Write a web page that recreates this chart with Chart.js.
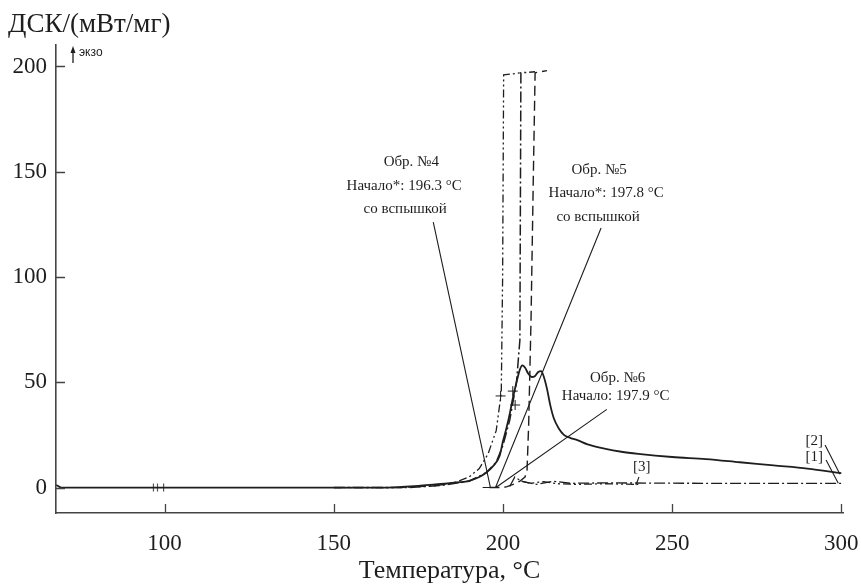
<!DOCTYPE html>
<html lang="ru">
<head>
<meta charset="UTF-8">
<title>ДСК</title>
<script src="https://cdn.jsdelivr.net/npm/chart.js"></script>
<style>
  html, body { margin: 0; padding: 0; background: #fff; }
  #wrap { width: 861px; height: 585px; position: relative; }
</style>
</head>
<body>
<div id="wrap"><canvas id="dsc"></canvas></div>
<script>
// ---- data ----
const xTicks = [100, 150, 200, 250, 300];
const yTicks = [0, 50, 100, 150, 200];

// solid curve (no flash)
const tSolid = [68, 69.5, 120, 165, 170, 175, 180, 185, 190, 193, 195, 197, 199, 200, 201, 202, 203, 204, 205, 205.7, 206.5, 207.5, 208.5, 209.5, 210.5, 211.3, 212, 213, 214, 215, 216.5, 218, 220, 222, 225, 230, 235, 240, 250, 260, 270, 280, 290, 300];
const vSolid = [1.2, 0, 0, 0, 0.3, 0.8, 1.5, 2.2, 3.2, 5, 7, 10, 15, 22, 28, 35, 43, 50, 56, 58, 57, 54, 52.5, 53, 55, 55.3, 53, 47, 39, 33, 28, 25, 23.5, 22.5, 20.5, 18.5, 17, 16, 14.5, 13.5, 12, 10.5, 9, 6.8];

// dash-dot-dot curve (flash at ~200 °C)
const tFlashA = [150, 170, 180, 186, 190, 193, 195.6, 198, 199.5, 199.9, 200.2, 203, 205];
const vFlashA = [0, 0, 0.8, 2.5, 5, 9, 16, 27, 45, 100, 196, 196.5, 197];
const tAfterA = [205.5, 208, 212, 216, 222, 230, 240];
const vAfterA = [3, 2, 2.8, 1.8, 1.5, 1.8, 1.5];

// long-dash-dot curve (flash at ~205 °C)
const tFlashB = [150, 172, 182, 190, 195, 198, 200, 202, 204, 205, 205.3, 209.5];
const vFlashB = [0, 0, 1, 3, 7, 12, 20, 32, 50, 70, 197, 197.5];
const tAfterB = [202, 203.5, 205.5, 207, 210, 215, 220, 230, 260, 300];
const vAfterB = [0.5, 5, 3, 2.5, 1.5, 3, 2, 2.2, 2, 2];

// dashed curve (flash at ~209 °C)
const tFlashC = [196, 200, 201.2, 203, 205, 206.5, 207.1, 207.6, 208.3, 209, 209.5, 213];
const vFlashC = [0, 0, 0.4, 1.5, 3, 5, 7.5, 30, 80, 150, 197, 198];

// small marks on the curves
const tCross = [199.3, 202.9, 203.6];
const vCross = [43.5, 45.8, 39.2];
const tBars = [96.7, 97.9, 99.7];
const vBars = [0, 0, 0];

// ---- annotations (data units) ----
const notes = [
  { text: 'Обр. №4', x: 172.9, y: 154.6 },
  { text: 'Начало*: 196.3 °C', x: 170.8, y: 143.2 },
  { text: 'со вспышкой', x: 171.1, y: 132.3 },
  { text: 'Обр. №5', x: 228.4, y: 150.8 },
  { text: 'Начало*: 197.8 °C', x: 230.5, y: 139.9 },
  { text: 'со вспышкой', x: 228.1, y: 128.5 },
  { text: 'Обр. №6', x: 233.9, y: 52.0 },
  { text: 'Начало: 197.9 °C', x: 233.3, y: 43.5 },
  { text: '[3]', x: 241.0, y: 9.7 },
  { text: '[2]', x: 292.0, y: 22.1 },
  { text: '[1]', x: 292.0, y: 14.5 }
];
const leaders = [
  [179.4, 126.1, 196.3, 0],
  [229.0, 123.3, 197.8, 0],
  [230.7, 37.1, 197.9, 0],
  [194.0, 0, 198.0, 0],
  [240.2, 5.0, 239.3, 1.2],
  [295.2, 20.2, 299.6, 6.3],
  [295.5, 13.1, 299.1, 2.0]
];

function pts(t, v) { return t.map((x, i) => ({ x: x, y: v[i] })); }

const ink = '#1e1e1e';
const serif = '"Liberation Serif", "DejaVu Serif", serif';

const extras = {
  id: 'extras',
  afterDraw(chart) {
    const ctx = chart.ctx;
    const xs = chart.scales.x, ys = chart.scales.y;
    const area = chart.chartArea;
    ctx.save();
    // inward ticks
    ctx.strokeStyle = '#444';
    ctx.lineWidth = 1.3;
    ctx.beginPath();
    yTicks.forEach(v => {
      const y = Math.round(ys.getPixelForValue(v)) + 0.5;
      ctx.moveTo(area.left, y); ctx.lineTo(area.left + 9, y);
    });
    xTicks.forEach(v => {
      const x = Math.round(xs.getPixelForValue(v)) + 0.5;
      ctx.moveTo(x, area.bottom); ctx.lineTo(x, area.bottom - 9);
    });
    ctx.stroke();

    // leader lines
    ctx.strokeStyle = ink;
    ctx.lineWidth = 1.1;
    ctx.beginPath();
    leaders.forEach(l => {
      ctx.moveTo(xs.getPixelForValue(l[0]), ys.getPixelForValue(l[1]));
      ctx.lineTo(xs.getPixelForValue(l[2]), ys.getPixelForValue(l[3]));
    });
    ctx.stroke();

    // annotation text
    ctx.fillStyle = ink;
    ctx.font = '15px ' + serif;
    ctx.textAlign = 'center';
    ctx.textBaseline = 'middle';
    notes.forEach(n => {
      ctx.fillText(n.text, xs.getPixelForValue(n.x), ys.getPixelForValue(n.y));
    });

    // axis titles
    ctx.font = '27px ' + serif;
    ctx.textAlign = 'left';
    ctx.fillText('ДСК/(мВт/мг)', 8, 25);
    ctx.font = '26px ' + serif;
    ctx.textAlign = 'center';
    ctx.fillText('Температура, °C', (area.left + area.right) / 2, 571);

    // exo arrow
    ctx.lineWidth = 1.3;
    ctx.beginPath();
    ctx.moveTo(73, 63); ctx.lineTo(73, 50);
    ctx.stroke();
    ctx.beginPath();
    ctx.moveTo(73, 46); ctx.lineTo(70.5, 53); ctx.lineTo(75.5, 53); ctx.closePath();
    ctx.fill();
    ctx.font = '12px "Liberation Sans", Arial, sans-serif';
    ctx.textAlign = 'left';
    ctx.fillText('экзо', 79, 53);
    ctx.restore();
  }
};

const lineStyle = (dash, w) => ({
  borderColor: ink, borderWidth: w, borderDash: dash,
  pointRadius: 0, fill: false, tension: 0
});

new Chart(document.getElementById('dsc'), {
  type: 'line',
  data: {
    datasets: [
      Object.assign({ label: 'solid', data: pts(tSolid, vSolid), cubicInterpolationMode: 'monotone' }, lineStyle([], 1.8)),
      Object.assign({ label: 'A', data: pts(tFlashA, vFlashA) }, lineStyle([8, 3, 2, 3, 2, 3], 1.3)),
      Object.assign({ label: 'A2', data: pts(tAfterA, vAfterA) }, lineStyle([8, 3, 2, 3, 2, 3], 1.3)),
      Object.assign({ label: 'B', data: pts(tFlashB, vFlashB) }, lineStyle([11, 3, 2, 3], 1.5)),
      Object.assign({ label: 'B2', data: pts(tAfterB, vAfterB) }, lineStyle([11, 3, 2, 3], 1.3)),
      Object.assign({ label: 'C', data: pts(tFlashC, vFlashC) }, lineStyle([10, 5], 1.4)),
      { label: 'cross', data: pts(tCross, vCross), showLine: false, pointStyle: 'cross',
        pointRadius: 5, pointBorderColor: ink, pointBorderWidth: 1 },
      { label: 'bars', data: pts(tBars, vBars), showLine: false, pointStyle: 'line', rotation: 90,
        pointRadius: 4, pointBorderColor: '#555', pointBorderWidth: 1.2 }
    ]
  },
  options: {
    responsive: true,
    maintainAspectRatio: false,
    animation: false,
    layout: { padding: { left: 0, right: 18, top: 45, bottom: 0 } },
    plugins: { legend: { display: false }, tooltip: { enabled: false } },
    scales: {
      x: {
        type: 'linear', min: 67.9, max: 300.5,
        afterBuildTicks: s => { s.ticks = xTicks.map(v => ({ value: v })); },
        afterFit: s => { s.height = 72; s.paddingLeft = 0; s.paddingRight = 0; },
        grid: { drawOnChartArea: false, drawTicks: false },
        border: { display: true, color: '#444', width: 1.6 },
        ticks: { color: ink, font: { family: serif, size: 23 }, padding: 17, maxRotation: 0 }
      },
      y: {
        type: 'linear', min: -12.1, max: 210.2,
        afterBuildTicks: s => { s.ticks = yTicks.map(v => ({ value: v })); },
        afterFit: s => { s.width = 56; s.paddingTop = 0; s.paddingBottom = 0; },
        grid: { drawOnChartArea: false, drawTicks: false },
        border: { display: true, color: '#444', width: 1.6 },
        ticks: { color: ink, font: { family: serif, size: 23 }, padding: 9 }
      }
    }
  },
  plugins: [extras]
});
</script>
</body>
</html>
